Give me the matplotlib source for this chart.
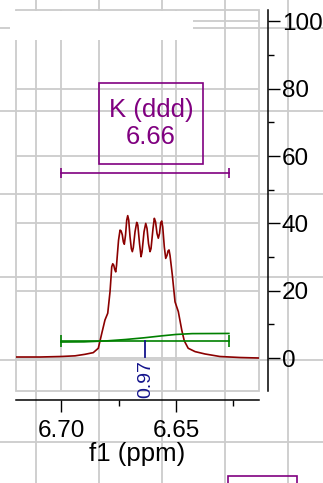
import matplotlib
matplotlib.use("Agg")
import matplotlib.pyplot as plt
from matplotlib.patches import Rectangle
from matplotlib.ticker import MultipleLocator

plt.rcParams['font.family'] = ['Liberation Sans', 'DejaVu Sans']

# spectrum (ppm, intensity)
ppm = [6.7196, 6.7091, 6.7000, 6.6939, 6.6896, 6.6860, 6.6838, 6.6823, 6.6809,
       6.6797, 6.67870, 6.67826, 6.67796, 6.67752, 6.67709, 6.67665, 6.67622,
       6.67587, 6.67552, 6.67500, 6.67435, 6.67391, 6.67335, 6.67291, 6.67248,
       6.67196, 6.67143, 6.67100, 6.67057, 6.67000, 6.66943, 6.66900, 6.66857,
       6.66783, 6.66709, 6.66661, 6.66587, 6.66522, 6.66478, 6.66391, 6.66317,
       6.66261, 6.66196, 6.66130, 6.66087, 6.66000, 6.65943, 6.65891, 6.65826,
       6.65770, 6.65717, 6.65665, 6.65622, 6.65578, 6.65509, 6.65448, 6.65391,
       6.65348, 6.65304, 6.65261, 6.65209, 6.65161, 6.65043, 6.6490, 6.6475,
       6.6464, 6.6447, 6.6417, 6.6374, 6.6309, 6.6222, 6.6139]
intensity = [0.3, 0.3, 0.45, 0.65, 1.1, 1.6, 2.9, 7.3, 11.3,
             13.3, 19.7, 24.0, 27.1, 28.0, 27.6, 26.3, 25.6,
             27.5, 30.6, 35.0, 38.0, 37.8, 36.6, 34.5, 33.8,
             36.5, 41.0, 42.3, 41.0, 36.0, 32.5, 31.6, 32.8,
             37.5, 40.3, 39.5, 34.0, 30.1, 31.5, 37.5, 40.0,
             38.5, 34.0, 31.6, 32.5, 38.5, 41.5, 40.5, 37.0,
             35.6, 37.0, 40.2, 40.7, 39.0, 33.0, 29.6, 30.5,
             31.8, 32.1, 30.5, 27.5, 24.7, 16.7, 13.8, 8.3,
             5.1, 2.9, 1.9, 1.2, 0.45, 0.15, 0.0]

# integral curve
int_ppm = [6.700, 6.690, 6.680, 6.672, 6.664, 6.656, 6.650, 6.643, 6.627]
int_val = [4.75, 4.8, 5.1, 5.5, 6.0, 6.6, 7.0, 7.25, 7.3]

region = (6.700, 6.627)
mult_label = "K (ddd)\n6.66"
mult_shift = 6.6609
integral_label = "0.97"
integral_pos = 6.6633

x_major = [6.70, 6.65]
y_major = [0, 20, 40, 60, 80, 100]

W, H = 323, 483
fig = plt.figure(figsize=(W / 100, H / 100), dpi=100)
grid_c = '#cccccc'

# page grid behind everything
bg = fig.add_axes([0, 0, 1, 1], zorder=-1)
bg.set_xlim(0, W)
bg.set_ylim(H, 0)
bg.set_xticks([36, 99, 162, 225, 288])
bg.set_yticks([28, 111, 194, 277, 360, 442])
bg.grid(True, color=grid_c, lw=1.3)
bg.tick_params(length=0, labelbottom=False, labelleft=False)
for s in bg.spines.values():
    s.set_visible(False)

ax = fig.add_axes([16 / W, 1 - 391 / H, 243 / W, 381 / H])
ax.patch.set_visible(False)
ax.set_xlim(6.7196, 6.6139)
ax.set_ylim(-9.8, 103.4)

ax.plot(ppm, intensity, color='#8b0000', lw=1.2, zorder=3)

# integral
green = '#008000'
ax.plot(int_ppm, int_val, color=green, lw=1.2, zorder=4)
ax.plot(region, [5.2, 5.2], color=green, lw=1.2, zorder=4)
ax.plot(region, [5.2, 5.2], ls='none', marker='|', ms=8, mew=1.2, color=green, zorder=4)
ax.plot([integral_pos, integral_pos], [5.0, 0.3], color='#14148c', lw=1.3, zorder=4)
ax.text(integral_pos, -0.6, integral_label, rotation=90, ha='center', va='top',
        color='#14148c', fontsize=14, clip_on=False, zorder=5)

# multiplet
purple = '#800080'
ax.plot(region, [55, 55], color=purple, lw=1.2)
ax.plot(region, [55, 55], ls='none', marker='|', ms=6.5, mew=1.2, color=purple)
ax.add_patch(Rectangle((6.6835, 57.7), 6.6383 - 6.6835, 24.0, fill=False,
                       ec=purple, lw=1.2))
ax.text(mult_shift, 69.8, mult_label, ha='center', va='center', color=purple,
        fontsize=18.5, linespacing=1.15)

# frame + axes
ax.add_patch(Rectangle((0, 0), 1, 1, transform=ax.transAxes, fill=False,
                       ec=grid_c, lw=1.3, clip_on=False, zorder=1))
ax.set_xticks(x_major)
ax.set_xticklabels(['6.70', '6.65'])
ax.xaxis.set_minor_locator(MultipleLocator(0.025))
ax.set_yticks(y_major)
ax.yaxis.set_minor_locator(MultipleLocator(10))
ax.grid(True, which='major', color=grid_c, lw=1.3, zorder=0)
ax.set_axisbelow(True)
ax.yaxis.tick_right()
ax.spines['top'].set_visible(False)
ax.spines['left'].set_visible(False)
ax.spines['bottom'].set_position(('outward', 6.5))
ax.spines['right'].set_position(('outward', 6.5))
for s in ('bottom', 'right'):
    ax.spines[s].set_linewidth(1.1)
ax.tick_params(which='major', length=8.5, width=1.0, labelsize=17.5)
ax.tick_params(which='minor', length=4.5, width=1.0)
ax.tick_params(axis='x', which='major', pad=6)
ax.tick_params(axis='y', which='major', pad=1.5)
ax.set_xlabel('f1 (ppm)', fontsize=18.5, labelpad=0)

# blanked box on top and the next box peeking in at the bottom
fig.add_artist(Rectangle((10 / W, 1 - 40 / H), 183 / W, 29 / H, transform=fig.transFigure,
                         fc='white', ec='none', zorder=5))
fig.add_artist(Rectangle((228 / W, 1 - 500 / H), 69 / W, 24 / H, transform=fig.transFigure,
                         fill=False, ec=purple, lw=1.2, zorder=5))

fig.savefig('out.png', dpi=100)
